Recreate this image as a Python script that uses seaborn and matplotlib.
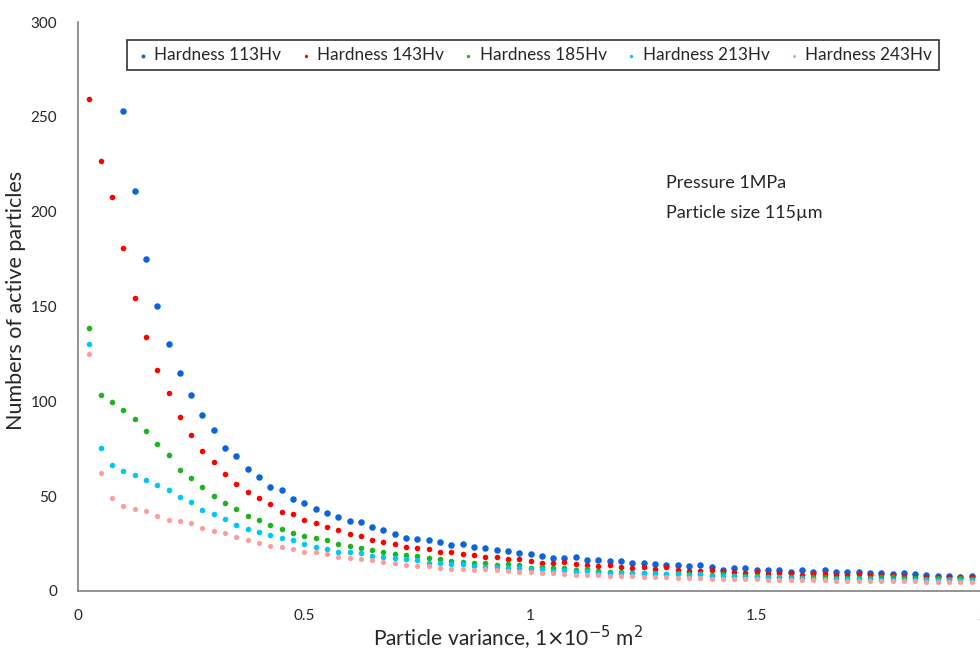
import numpy as np
import pandas as pd
import matplotlib
matplotlib.use("Agg")
import matplotlib.pyplot as plt
import seaborn as sns

# particle variance grid, 1e-5 m^2 (step 0.025)
variance = np.round(np.arange(1, 80) * 0.025, 3)

# Hardness 113Hv: first three points are off the top of the axis
hv113 = [253.2, 210.7, 175.0, 150.2, 130.2, 115.1, 103.3, 92.6, 84.7, 75.2,
         71.2, 64.1, 60.3, 54.6, 53.1, 48.5, 46.6, 43.4, 41.1, 39.2,
         37.1, 36.5, 33.9, 32.0, 29.9, 27.9, 27.4, 27.1, 25.6, 24.2,
         24.6, 23.4, 22.8, 21.4, 21.3, 20.0, 19.3, 18.6, 17.6, 17.2,
         18.1, 16.3, 16.3, 15.6, 15.6, 14.9, 14.6, 14.1, 13.9, 13.5,
         13.2, 13.9, 12.8, 11.2, 12.3, 12.1, 11.2, 11.2, 11.2, 10.2,
         11.0, 10.2, 11.0, 9.8, 10.0, 9.8, 9.5, 9.3, 9.0, 9.5,
         8.8, 8.2, 7.9, 7.9, 7.4, 7.7]
hv143 = [259.4, 226.7, 207.9, 180.8, 154.6, 134.1, 116.7, 104.6, 91.7, 82.4,
         73.6, 68.0, 61.5, 56.4, 52.0, 48.8, 45.7, 41.6, 40.4, 37.6,
         35.8, 33.9, 32.2, 30.2, 28.9, 26.9, 25.6, 24.6, 23.2, 22.9,
         22.3, 20.4, 20.4, 19.5, 19.2, 18.1, 17.8, 16.7, 16.7, 15.8,
         14.8, 14.8, 15.1, 14.1, 13.5, 13.0, 13.5, 12.9, 12.3, 12.4,
         11.5, 12.5, 11.0, 10.7, 10.7, 11.0, 10.2, 10.2, 9.7, 10.0,
         9.1, 9.3, 9.3, 8.6, 8.8, 8.8, 8.6, 8.6, 9.0, 8.2,
         8.4, 8.2, 8.1, 7.6, 7.6, 7.4, 7.2, 7.4, 7.2]
hv185 = [138.6, 103.3, 99.6, 95.2, 90.8, 84.3, 77.7, 71.7, 63.6, 59.4,
         54.6, 49.9, 46.4, 43.0, 39.7, 37.6, 35.0, 32.7, 30.8, 29.0,
         28.1, 26.7, 24.8, 23.5, 22.5, 21.6, 20.6, 19.7, 19.2, 18.3,
         17.6, 16.9, 15.6, 15.3, 15.0, 14.6, 13.7, 14.1, 13.5, 12.3,
         12.9, 12.3, 12.3, 11.2, 11.8, 10.7, 9.8, 10.2, 9.7, 9.5,
         9.5, 8.8, 9.3, 9.0, 8.8, 8.4, 8.8, 8.1, 8.1, 8.1,
         7.6, 7.6, 7.2, 7.0, 7.2, 7.2, 7.0, 7.0, 7.0, 7.0,
         7.2, 7.2, 6.7, 6.7, 6.5, 6.9, 6.5, 6.7, 6.3]
hv213 = [130.4, 75.6, 66.6, 63.4, 61.2, 58.7, 55.9, 53.1, 49.7, 46.9,
         42.7, 40.8, 38.1, 34.8, 32.9, 30.9, 29.7, 27.8, 26.7, 24.6,
         23.4, 22.3, 20.7, 20.6, 19.9, 18.6, 17.8, 17.4, 16.7, 16.2,
         15.0, 14.8, 14.2, 14.1, 13.4, 12.9, 12.9, 12.3, 12.3, 11.6,
         11.6, 10.5, 10.9, 10.2, 10.4, 9.7, 9.3, 9.7, 9.7, 9.3,
         9.1, 9.0, 8.8, 8.6, 8.8, 8.1, 8.1, 8.1, 7.6, 7.6,
         7.4, 7.2, 6.9, 6.7, 6.5, 6.3, 6.3, 6.5, 6.2, 6.2,
         6.0, 6.0, 6.0, 6.0, 5.8, 5.8, 5.8, 5.6, 5.6]
hv243 = [125.1, 62.4, 48.8, 44.6, 43.2, 42.3, 39.5, 37.6, 36.7, 35.7,
         33.2, 31.6, 30.4, 28.6, 26.9, 25.3, 23.9, 23.2, 22.0, 20.6,
         20.4, 19.3, 17.8, 17.2, 16.9, 16.2, 15.4, 14.8, 13.7, 13.4,
         13.0, 12.3, 11.8, 11.8, 11.1, 11.4, 11.1, 10.7, 10.2, 9.8,
         9.3, 9.7, 9.1, 8.5, 8.5, 8.4, 7.8, 7.8, 8.0, 7.6,
         7.4, 7.4, 6.7, 7.0, 6.9, 6.5, 6.3, 6.3, 6.3, 6.3,
         6.0, 6.0, 5.8, 5.6, 5.6, 5.6, 5.4, 5.4, 5.3, 5.3,
         5.3, 5.3, 5.1, 5.1, 4.9, 4.7, 4.7, 4.7, 4.7]

labels = ["Hardness 113Hv", "Hardness 143Hv", "Hardness 185Hv",
          "Hardness 213Hv", "Hardness 243Hv"]
colors = ["#0a64dc", "#ff0000", "#1eb41e", "#00c8f5", "#ff9c9c"]
sizes = [22, 16, 16, 16, 14]

series = [hv113, hv143, hv185, hv213, hv243]
frames = []
for lab, vals in zip(labels, series):
    frames.append(pd.DataFrame({"variance": variance[len(variance) - len(vals):],
                                "count": vals, "series": lab}))
df = pd.concat(frames, ignore_index=True)

sns.set_style("white")
plt.rcParams['font.family'] = ['Lato', 'DejaVu Sans']

fig = plt.figure(figsize=(9.8, 6.53), dpi=100)
# the x axis runs a little past the right edge of the picture, as in the original
ax = fig.add_axes([78 / 980, 1 - 591 / 653, 905 / 980, 569 / 653])

for lab, col, sz in zip(labels, colors, sizes):
    sns.scatterplot(data=df[df["series"] == lab], x="variance", y="count",
                    color=col, s=sz, linewidth=0, ax=ax, label=lab)

ax.set_xlim(0, 2)
ax.set_ylim(0, 300)
ax.set_xticks([0, 0.5, 1, 1.5, 2])
ax.set_xticklabels(["0", "0.5", "1", "1.5", "2"])
ax.set_yticks(range(0, 301, 50))
for side in ["top", "right"]:
    ax.spines[side].set_visible(False)
for side in ["left", "bottom"]:
    ax.spines[side].set_color("#808080")
    ax.spines[side].set_linewidth(1.2)
ax.tick_params(axis="both", direction="out", length=4, width=1, color="#808080",
               labelsize=11)
ax.tick_params(axis="y", pad=11)
ax.tick_params(axis="x", pad=9)

ax.set_xlabel(r"Particle variance, 1$\times$10$^{-5}$ m$^{2}$", fontsize=15)
ax.set_ylabel("Numbers of active particles", fontsize=15.5)
ax.xaxis.set_label_coords(0.475, -0.058)
ax.yaxis.set_label_coords(-0.058, 0.51)

ax.text(1.30, 215, "Pressure 1MPa", fontsize=13, va="center")
ax.text(1.30, 199.5, "Particle size 115\u00b5m", fontsize=13, va="center")

leg = ax.legend(loc="upper left", bbox_to_anchor=(49 / 905, 551 / 569), ncol=5,
                frameon=True, fancybox=False, edgecolor="black", fontsize=12.3,
                handletextpad=0.15, columnspacing=0.95, borderpad=0.42,
                markerscale=0.6, handlelength=1.0, borderaxespad=0)
leg.get_frame().set_linewidth(1.2)

fig.savefig("out.png", dpi=100)
